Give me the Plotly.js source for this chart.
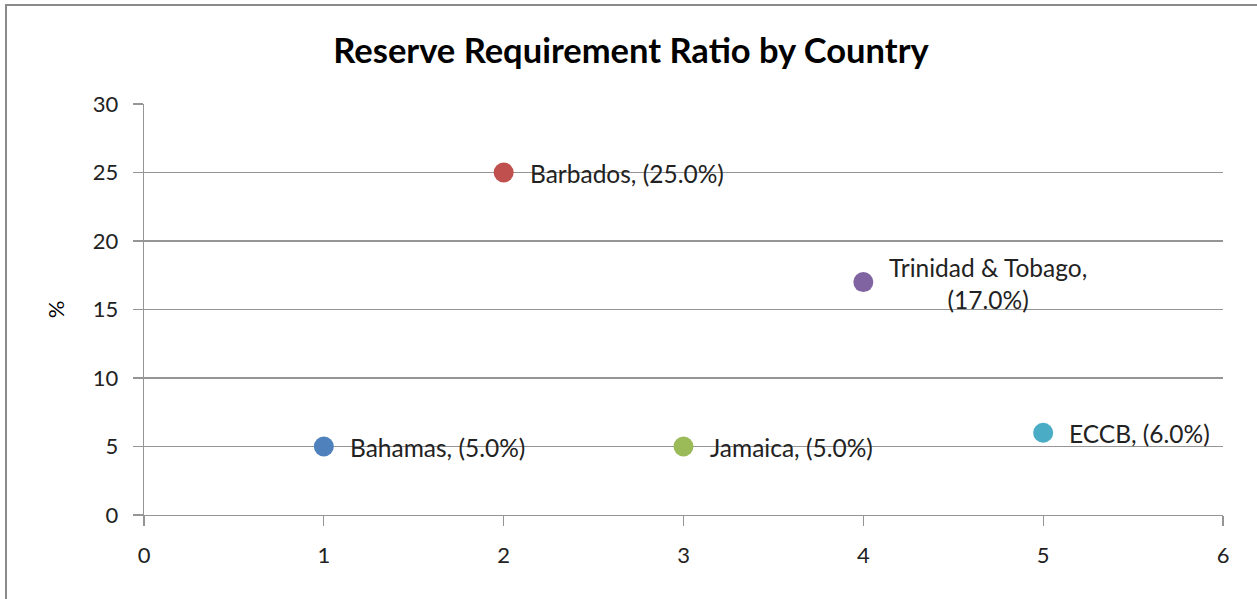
<!DOCTYPE html>
<html>
<head>
<meta charset="utf-8">
<script src="https://cdn.plot.ly/plotly-3.0.1.min.js"></script>
<style>
html,body{margin:0;padding:0;background:#fff;}
#chart{width:1257px;height:599px;position:absolute;left:0;top:0;}
#frame{position:absolute;left:5px;top:4px;width:1300px;height:700px;border-left:2px solid #8a8a8a;border-top:2px solid #8a8a8a;pointer-events:none;}
</style>
</head>
<body>
<div id="chart"></div>
<div id="frame"></div>
<script>
const countries = ["Bahamas", "Barbados", "Jamaica", "Trinidad & Tobago", "ECCB"];
const xValues = [1, 2, 3, 4, 5];
const ratios = [5.0, 25.0, 5.0, 17.0, 6.0];
const labelTexts = ["Bahamas, (5.0%)", "Barbados, (25.0%)", "Jamaica, (5.0%)", "Trinidad & Tobago,<br>(17.0%)", "ECCB, (6.0%)"];
const colors = ["#4F81BD", "#C0504D", "#9BBB59", "#8064A2", "#4BACC6"];
const xTicks = [0, 1, 2, 3, 4, 5, 6];
const yTicks = [0, 5, 10, 15, 20, 25, 30];

const FONT = "Lato, 'Open Sans', sans-serif";
const LINE = "#959595";

const traces = countries.map((c, i) => ({
  type: "scatter",
  mode: "markers",
  name: c,
  x: [xValues[i]],
  y: [ratios[i]],
  marker: {color: colors[i], size: 20},
  hoverinfo: "x+y+name"
}));

const annotations = countries.map((c, i) => ({
  x: xValues[i],
  y: ratios[i],
  xref: "x",
  yref: "y",
  text: labelTexts[i],
  showarrow: false,
  xanchor: "left",
  yanchor: "middle",
  align: "center",
  xshift: 24,
  yshift: -1,
  font: {family: FONT, size: 24.5, color: "#222"}
}));

const layout = {
  width: 1257,
  height: 599,
  margin: {l: 144, r: 34, t: 104, b: 84},
  paper_bgcolor: "#ffffff",
  plot_bgcolor: "#ffffff",
  showlegend: false,
  title: {
    text: "<b>Reserve Requirement Ratio by Country</b>",
    font: {family: FONT, size: 34.5, color: "#000"},
    x: 0.502, xanchor: "center",
    y: 0.915, yanchor: "middle"
  },
  xaxis: {
    range: [0, 6],
    tickvals: xTicks,
    ticktext: xTicks.map(String),
    showgrid: false,
    zeroline: false,
    showline: true,
    linecolor: LINE,
    linewidth: 1.3,
    ticks: "outside",
    ticklen: 10,
    tickcolor: LINE,
    tickwidth: 1.3,
    ticklabelstandoff: 10,
    tickfont: {family: FONT, size: 22, color: "#222"},
    fixedrange: true
  },
  yaxis: {
    range: [0, 30],
    tickvals: yTicks,
    ticktext: yTicks.map(String),
    showgrid: true,
    gridcolor: LINE,
    gridwidth: 1.3,
    zeroline: false,
    showline: true,
    linecolor: LINE,
    linewidth: 1.3,
    ticks: "outside",
    ticklen: 10,
    tickcolor: LINE,
    tickwidth: 1.3,
    ticklabelstandoff: 10,
    tickfont: {family: FONT, size: 22, color: "#222"},
    title: {text: "%", font: {family: FONT, size: 22, color: "#000"}, standoff: 22},
    fixedrange: true
  },
  annotations: annotations
};

Plotly.newPlot("chart", traces, layout, {displayModeBar: false, staticPlot: true});
</script>
</body>
</html>
